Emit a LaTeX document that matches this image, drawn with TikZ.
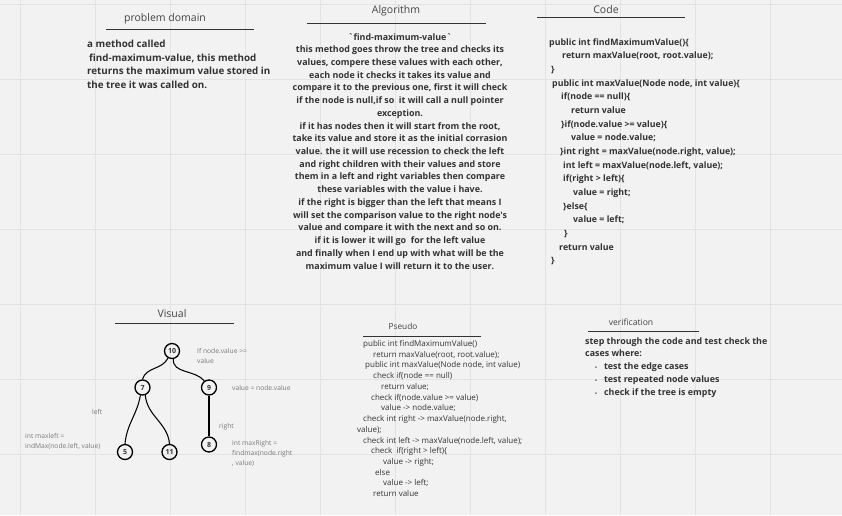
\documentclass[tikz,border=0pt]{standalone}
\usepackage{fontspec}
\setmainfont{Open Sans}[Ligatures=TeXOff]
\definecolor{bgc}{HTML}{F2F2F2}
\definecolor{gridc}{HTML}{E3E3E3}
\definecolor{txt}{HTML}{333333}
\definecolor{ttl}{HTML}{444444}
\definecolor{note}{HTML}{7A7A7A}
\begin{document}
\begin{tikzpicture}[x=1pt,y=-1pt,
  title/.style={text=ttl,inner sep=0pt,anchor=base,font=\fontsize{10.5}{12}\selectfont},
  rule/.style={draw=txt,line width=0.9pt},
  boldblock/.style={text=txt,inner sep=0pt,font=\bfseries},
  notetext/.style={text=note,inner sep=0pt,anchor=base west,align=left,font=\fontsize{6.7}{10}\selectfont},
  treenode/.style={draw=black,circle,line width=1.3pt,minimum size=15pt,inner sep=0pt,font=\bfseries\fontsize{7}{8}\selectfont,text=txt},
  edge/.style={draw=black,line width=1.05pt}]
\fill[bgc] (0,0) rectangle (842,515);
\useasboundingbox (0,0) rectangle (842,515);
% grid
\foreach \gx in {20,95,...,845} \draw[gridc,line width=0.7pt] (\gx,0) -- (\gx,515);
\foreach \gy in {4,79,...,515} \draw[gridc,line width=0.7pt] (0,\gy) -- (842,\gy);

% problem domain (anchor = baseline of last line)
\node[title] (tpd) at (165,21) {problem domain};
\draw[rule] (106,29) -- (254,29);
\node[boldblock,anchor=base west,align=left,font=\bfseries\fontsize{9.8}{13.7}\selectfont] (pd) at (87,88.6)
 {a method called\\
  \hspace*{2pt}find-maximum-value, this method\\
  returns the maximum value stored in\\
  the tree it was called on.};

% algorithm
\node[title] (tal) at (396,13) {Algorithm};
\draw[rule] (307,23) -- (486,23);
\node[boldblock,anchor=base,align=center,font=\bfseries\fontsize{8.9}{12.72}\selectfont] (al) at (400,269)
 {`find-maximum-value`\\
  this method goes throw the tree and checks its\\
  values, compere these values with each other,\\
  each node it checks it takes its value and\\
  compare it to the previous one, first it will check\\
  if the node is null,if so\ \ it will call a null pointer\\
  exception.\\
  if it has nodes then it will start from the root,\\
  take its value and store it as the initial corrasion\\
  value. the it will use recession to check the left\\
  and right children with their values and store\\
  them in a left and right variables then compare\\
  these variables with the value i have.\\
  if the right is bigger than the left that means I\\
  will set the comparison value to the right node's\\
  value and compare it with the next and so on.\\
  if it is lower it will go\ \ for the left value\\
  and finally when I end up with what will be the\\
  maximum value I will return it to the user.};

% code
\node[title] (tco) at (606,13) {Code};
\draw[rule] (537,17) -- (685,17);
\node[boldblock,anchor=base west,align=left,font=\bfseries\fontsize{8.8}{13.68}\selectfont] (co) at (549,263.9)
 {public int findMaximumValue()\{\\
  \hspace*{13pt}return maxValue(root, root.value);\\
  \hspace*{2pt}\}\\
  \hspace*{3pt}public int maxValue(Node node, int value)\{\\
  \hspace*{12pt}if(node == null)\{\\
  \hspace*{22pt}return value\\
  \hspace*{12pt}\}if(node.value >= value)\{\\
  \hspace*{22pt}value = node.value;\\
  \hspace*{11pt}\}int right = maxValue(node.right, value);\\
  \hspace*{14pt}int left = maxValue(node.left, value);\\
  \hspace*{14pt}if(right > left)\{\\
  \hspace*{24pt}value = right;\\
  \hspace*{14pt}\}else\{\\
  \hspace*{24pt}value = left;\\
  \hspace*{15pt}\}\\
  \hspace*{10pt}return value\\
  \hspace*{2pt}\}};

% visual
\node[title] (tvi) at (172,317) {Visual};
\draw[rule] (115,323) -- (234,323);
\node[treenode] (n10) at (172,351) {10};
\node[treenode] (n7) at (142.5,387.5) {7};
\node[treenode] (n9) at (209,387.5) {9};
\node[treenode] (n5) at (125,452) {5};
\node[treenode] (n11) at (169.5,452) {11};
\node[treenode] (n8) at (209,444.5) {8};
\draw[edge] (n10.-120) to[out=-115,in=75] (n7.north);
\draw[edge] (n10.-80) to[out=-95,in=130] (n9.125);
\draw[edge] (n7.-105) to[out=-100,in=85] (n5.north);
\draw[edge] (n7.-70) to[out=-85,in=95] (n11.north);
\draw[edge] (n9.south) -- (n8.north);
\node[notetext] (l1) at (197,363.5) {If node.value >=\\value};
\node[notetext] (l2) at (232,390.5) {value = node.value};
\node[notetext] (l3) at (92,414.5) {left};
\node[notetext] (l4) at (219,428.5) {right};
\node[notetext] (l5) at (25,448.5) {int maxleft =\\indMax(node.left, value)};
\node[notetext] (l6) at (232,465.5) {int maxRight =\\findmax(node.right\\, value)};

% pseudo
\node[title,font=\fontsize{8.3}{10}\selectfont] (tps) at (403,329) {Pseudo};
\draw[rule] (363,336) -- (481,336);
\node[text=txt,inner sep=0pt,anchor=base west,align=left,font=\fontsize{8}{10.72}\selectfont] (ps) at (357,496.6)
 {\hspace*{6pt}public int findMaximumValue()\\
  \hspace*{16pt}return maxValue(root, root.value);\\
  \hspace*{8pt}public int maxValue(Node node, int value)\\
  \hspace*{16pt}check if(node == null)\\
  \hspace*{24pt}return value;\\
  \hspace*{14pt}check if(node.value >= value)\\
  \hspace*{24pt}value -> node.value;\\
  \hspace*{6pt}check int right -> maxValue(node.right,\\
  value);\\
  \hspace*{6pt}check int left -> maxValue(node.left, value);\\
  \hspace*{14pt}check\ \ if(right > left)\{\\
  \hspace*{26pt}value -> right;\\
  \hspace*{18pt}else\\
  \hspace*{26pt}value -> left;\\
  \hspace*{16pt}return value};

% verification
\node[title,font=\fontsize{8.6}{10}\selectfont] (tve) at (631,325) {verification};
\draw[rule] (588,331) -- (699,331);
\node[boldblock,anchor=base west,align=left,font=\bfseries\fontsize{8.9}{12.75}\selectfont] (ve) at (585,395)
 {step through the code and test check the\\
  cases where:\\
  \hspace*{10pt}{\fontsize{5}{5}\selectfont •}\hspace*{7pt}test the edge cases\\
  \hspace*{10pt}{\fontsize{5}{5}\selectfont •}\hspace*{7pt}test repeated node values\\
  \hspace*{10pt}{\fontsize{5}{5}\selectfont •}\hspace*{7pt}check if the tree is empty};
\end{tikzpicture}
\end{document}
